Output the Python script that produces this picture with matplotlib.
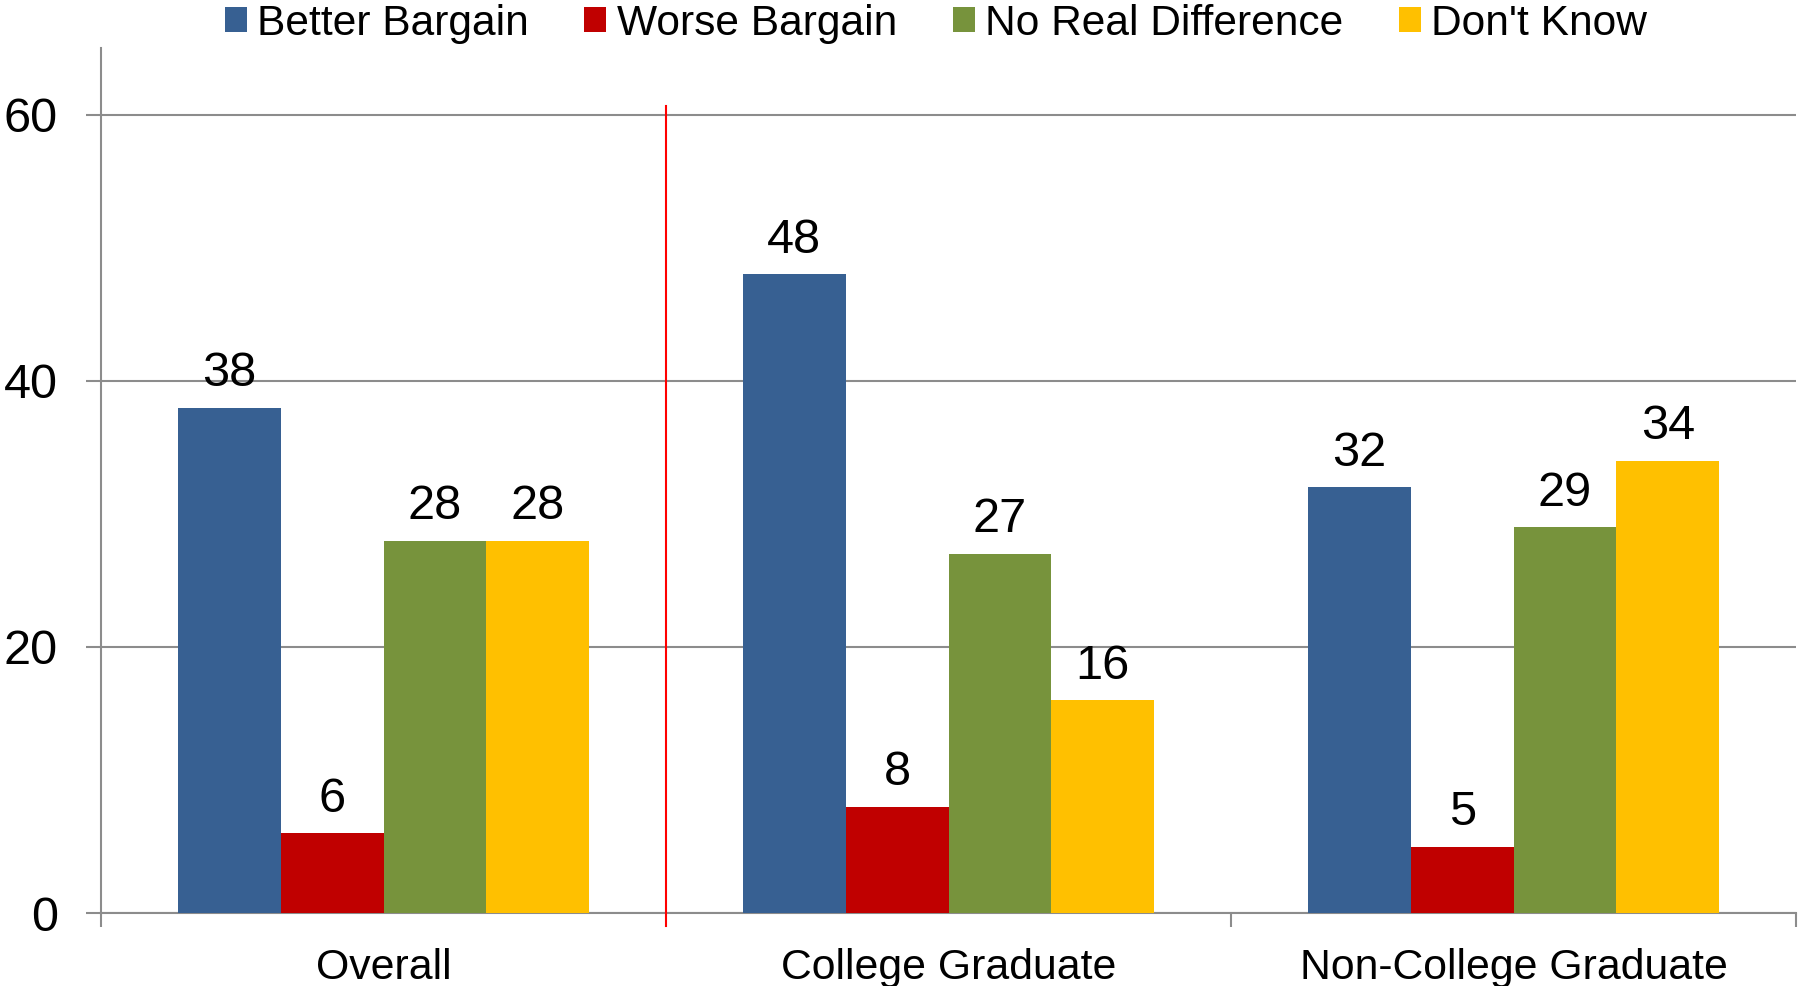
import numpy as np
import matplotlib
matplotlib.use("Agg")
import matplotlib.pyplot as plt

plt.rcParams['font.family'] = ['Liberation Sans', 'DejaVu Sans']

# chart data
groups = ['Overall', 'College Graduate', 'Non-College Graduate']
series = ['Better Bargain', 'Worse Bargain', 'No Real Difference', "Don't Know"]
better = [38, 48, 32]
worse = [6, 8, 5]
no_diff = [28, 27, 29]
dont_know = [28, 16, 34]
colors = ['#376092', '#C00000', '#77933C', '#FFC000']

values = [better, worse, no_diff, dont_know]
grid_col = '#8c8c8c'

fig = plt.figure(figsize=(17.98, 9.86), dpi=100)
ax = fig.add_axes([0.0562, 0.074, 0.9427, 0.877])

x = np.arange(len(groups))
w = 0.182
for i, (name, vals, c) in enumerate(zip(series, values, colors)):
    bars = ax.bar(x + (i - 1.5) * w, vals, w, color=c, label=name, zorder=3)
    for b, v in zip(bars, vals):
        ax.annotate(str(v), (b.get_x() + b.get_width() / 2, v),
                    xytext=(0, 15.5), textcoords='offset points',
                    ha='center', va='baseline', fontsize=35)

ax.set_xlim(-0.5, 2.5)
ax.set_ylim(0, 65)
ax.set_yticks([0, 20, 40, 60])
ax.yaxis.grid(True, color=grid_col, linewidth=1.5, zorder=0)

# boundary ticks and centred labels
ax.set_xticks([-0.5, 1.5, 2.5])
ax.set_xticklabels([])
ax.set_xticks(x, minor=True)
ax.set_xticklabels(groups, minor=True)
ax.tick_params(axis='x', which='major', length=10, width=1.5, color=grid_col)
ax.tick_params(axis='x', which='minor', length=0, pad=25, labelsize=30.8)
ax.tick_params(axis='y', length=11, width=1.5, color=grid_col, pad=20, labelsize=35)

for s in ['top', 'right']:
    ax.spines[s].set_visible(False)
for s in ['left', 'bottom']:
    ax.spines[s].set_color(grid_col)
    ax.spines[s].set_linewidth(1.5)

# red separator after "Overall"
ax.plot([0.5, 0.5], [-0.98, 60.7], color='red', linewidth=1.5, clip_on=False, zorder=4)

ax.legend(loc='center', bbox_to_anchor=(0.5205, 0.976), bbox_transform=fig.transFigure,
          ncol=4, frameon=False, fontsize=30.6, handlelength=0.52, handleheight=0.52,
          handletextpad=0.24, columnspacing=1.31, borderpad=0)

fig.savefig('out.png', dpi=100)
